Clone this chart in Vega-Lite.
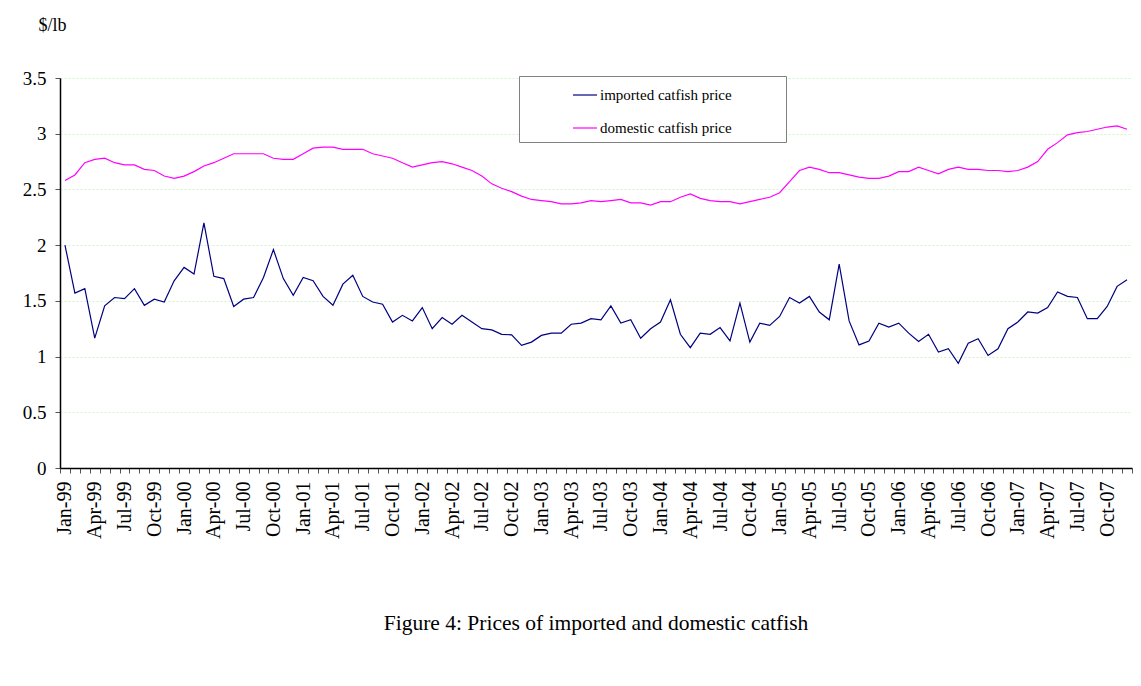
{
  "$schema": "https://vega.github.io/schema/vega-lite/v6.json",
  "autosize": "none",
  "width": 1072,
  "height": 390,
  "padding": {"left": 60, "top": 78, "right": 9, "bottom": 218},
  "background": "white",
  "config": {
    "font": "Liberation Serif",
    "view": {"stroke": null},
    "axis": {"labelFont": "Liberation Serif", "titleFont": "Liberation Serif", "labelColor": "black", "titleColor": "black"}
  },
  "title": {
    "text": "Figure 4: Prices of imported and domestic catfish",
    "orient": "bottom",
    "anchor": "middle",
    "fontSize": 21.5,
    "fontWeight": "normal",
    "font": "Liberation Serif",
    "color": "black",
    "offset": 75
  },
  "data": {
    "values": [
      {"month": "Jan-99", "imported catfish price": 2.00, "domestic catfish price": 2.58},
      {"month": "Feb-99", "imported catfish price": 1.57, "domestic catfish price": 2.63},
      {"month": "Mar-99", "imported catfish price": 1.61, "domestic catfish price": 2.74},
      {"month": "Apr-99", "imported catfish price": 1.165, "domestic catfish price": 2.77},
      {"month": "May-99", "imported catfish price": 1.455, "domestic catfish price": 2.78},
      {"month": "Jun-99", "imported catfish price": 1.53, "domestic catfish price": 2.74},
      {"month": "Jul-99", "imported catfish price": 1.52, "domestic catfish price": 2.72},
      {"month": "Aug-99", "imported catfish price": 1.61, "domestic catfish price": 2.72},
      {"month": "Sep-99", "imported catfish price": 1.46, "domestic catfish price": 2.68},
      {"month": "Oct-99", "imported catfish price": 1.515, "domestic catfish price": 2.67},
      {"month": "Nov-99", "imported catfish price": 1.49, "domestic catfish price": 2.62},
      {"month": "Dec-99", "imported catfish price": 1.68, "domestic catfish price": 2.60},
      {"month": "Jan-00", "imported catfish price": 1.80, "domestic catfish price": 2.62},
      {"month": "Feb-00", "imported catfish price": 1.74, "domestic catfish price": 2.66},
      {"month": "Mar-00", "imported catfish price": 2.20, "domestic catfish price": 2.71},
      {"month": "Apr-00", "imported catfish price": 1.72, "domestic catfish price": 2.74},
      {"month": "May-00", "imported catfish price": 1.70, "domestic catfish price": 2.78},
      {"month": "Jun-00", "imported catfish price": 1.45, "domestic catfish price": 2.82},
      {"month": "Jul-00", "imported catfish price": 1.515, "domestic catfish price": 2.82},
      {"month": "Aug-00", "imported catfish price": 1.53, "domestic catfish price": 2.82},
      {"month": "Sep-00", "imported catfish price": 1.71, "domestic catfish price": 2.82},
      {"month": "Oct-00", "imported catfish price": 1.96, "domestic catfish price": 2.78},
      {"month": "Nov-00", "imported catfish price": 1.70, "domestic catfish price": 2.77},
      {"month": "Dec-00", "imported catfish price": 1.55, "domestic catfish price": 2.77},
      {"month": "Jan-01", "imported catfish price": 1.71, "domestic catfish price": 2.82},
      {"month": "Feb-01", "imported catfish price": 1.68, "domestic catfish price": 2.87},
      {"month": "Mar-01", "imported catfish price": 1.54, "domestic catfish price": 2.88},
      {"month": "Apr-01", "imported catfish price": 1.46, "domestic catfish price": 2.88},
      {"month": "May-01", "imported catfish price": 1.65, "domestic catfish price": 2.86},
      {"month": "Jun-01", "imported catfish price": 1.73, "domestic catfish price": 2.86},
      {"month": "Jul-01", "imported catfish price": 1.54, "domestic catfish price": 2.86},
      {"month": "Aug-01", "imported catfish price": 1.49, "domestic catfish price": 2.82},
      {"month": "Sep-01", "imported catfish price": 1.47, "domestic catfish price": 2.80},
      {"month": "Oct-01", "imported catfish price": 1.31, "domestic catfish price": 2.78},
      {"month": "Nov-01", "imported catfish price": 1.37, "domestic catfish price": 2.74},
      {"month": "Dec-01", "imported catfish price": 1.32, "domestic catfish price": 2.70},
      {"month": "Jan-02", "imported catfish price": 1.44, "domestic catfish price": 2.72},
      {"month": "Feb-02", "imported catfish price": 1.25, "domestic catfish price": 2.74},
      {"month": "Mar-02", "imported catfish price": 1.35, "domestic catfish price": 2.75},
      {"month": "Apr-02", "imported catfish price": 1.29, "domestic catfish price": 2.73},
      {"month": "May-02", "imported catfish price": 1.37, "domestic catfish price": 2.70},
      {"month": "Jun-02", "imported catfish price": 1.31, "domestic catfish price": 2.67},
      {"month": "Jul-02", "imported catfish price": 1.25, "domestic catfish price": 2.62},
      {"month": "Aug-02", "imported catfish price": 1.24, "domestic catfish price": 2.55},
      {"month": "Sep-02", "imported catfish price": 1.20, "domestic catfish price": 2.51},
      {"month": "Oct-02", "imported catfish price": 1.195, "domestic catfish price": 2.48},
      {"month": "Nov-02", "imported catfish price": 1.10, "domestic catfish price": 2.44},
      {"month": "Dec-02", "imported catfish price": 1.13, "domestic catfish price": 2.41},
      {"month": "Jan-03", "imported catfish price": 1.19, "domestic catfish price": 2.40},
      {"month": "Feb-03", "imported catfish price": 1.21, "domestic catfish price": 2.39},
      {"month": "Mar-03", "imported catfish price": 1.21, "domestic catfish price": 2.37},
      {"month": "Apr-03", "imported catfish price": 1.29, "domestic catfish price": 2.37},
      {"month": "May-03", "imported catfish price": 1.30, "domestic catfish price": 2.38},
      {"month": "Jun-03", "imported catfish price": 1.34, "domestic catfish price": 2.40},
      {"month": "Jul-03", "imported catfish price": 1.33, "domestic catfish price": 2.39},
      {"month": "Aug-03", "imported catfish price": 1.455, "domestic catfish price": 2.40},
      {"month": "Sep-03", "imported catfish price": 1.30, "domestic catfish price": 2.41},
      {"month": "Oct-03", "imported catfish price": 1.33, "domestic catfish price": 2.38},
      {"month": "Nov-03", "imported catfish price": 1.165, "domestic catfish price": 2.38},
      {"month": "Dec-03", "imported catfish price": 1.25, "domestic catfish price": 2.36},
      {"month": "Jan-04", "imported catfish price": 1.31, "domestic catfish price": 2.39},
      {"month": "Feb-04", "imported catfish price": 1.51, "domestic catfish price": 2.39},
      {"month": "Mar-04", "imported catfish price": 1.20, "domestic catfish price": 2.43},
      {"month": "Apr-04", "imported catfish price": 1.08, "domestic catfish price": 2.46},
      {"month": "May-04", "imported catfish price": 1.21, "domestic catfish price": 2.42},
      {"month": "Jun-04", "imported catfish price": 1.20, "domestic catfish price": 2.40},
      {"month": "Jul-04", "imported catfish price": 1.26, "domestic catfish price": 2.39},
      {"month": "Aug-04", "imported catfish price": 1.14, "domestic catfish price": 2.39},
      {"month": "Sep-04", "imported catfish price": 1.48, "domestic catfish price": 2.37},
      {"month": "Oct-04", "imported catfish price": 1.13, "domestic catfish price": 2.39},
      {"month": "Nov-04", "imported catfish price": 1.30, "domestic catfish price": 2.41},
      {"month": "Dec-04", "imported catfish price": 1.28, "domestic catfish price": 2.43},
      {"month": "Jan-05", "imported catfish price": 1.36, "domestic catfish price": 2.47},
      {"month": "Feb-05", "imported catfish price": 1.53, "domestic catfish price": 2.57},
      {"month": "Mar-05", "imported catfish price": 1.48, "domestic catfish price": 2.67},
      {"month": "Apr-05", "imported catfish price": 1.54, "domestic catfish price": 2.70},
      {"month": "May-05", "imported catfish price": 1.40, "domestic catfish price": 2.68},
      {"month": "Jun-05", "imported catfish price": 1.33, "domestic catfish price": 2.65},
      {"month": "Jul-05", "imported catfish price": 1.83, "domestic catfish price": 2.65},
      {"month": "Aug-05", "imported catfish price": 1.32, "domestic catfish price": 2.63},
      {"month": "Sep-05", "imported catfish price": 1.105, "domestic catfish price": 2.61},
      {"month": "Oct-05", "imported catfish price": 1.14, "domestic catfish price": 2.60},
      {"month": "Nov-05", "imported catfish price": 1.30, "domestic catfish price": 2.60},
      {"month": "Dec-05", "imported catfish price": 1.265, "domestic catfish price": 2.62},
      {"month": "Jan-06", "imported catfish price": 1.30, "domestic catfish price": 2.66},
      {"month": "Feb-06", "imported catfish price": 1.21, "domestic catfish price": 2.66},
      {"month": "Mar-06", "imported catfish price": 1.135, "domestic catfish price": 2.70},
      {"month": "Apr-06", "imported catfish price": 1.20, "domestic catfish price": 2.67},
      {"month": "May-06", "imported catfish price": 1.04, "domestic catfish price": 2.64},
      {"month": "Jun-06", "imported catfish price": 1.07, "domestic catfish price": 2.68},
      {"month": "Jul-06", "imported catfish price": 0.94, "domestic catfish price": 2.70},
      {"month": "Aug-06", "imported catfish price": 1.12, "domestic catfish price": 2.68},
      {"month": "Sep-06", "imported catfish price": 1.16, "domestic catfish price": 2.68},
      {"month": "Oct-06", "imported catfish price": 1.01, "domestic catfish price": 2.67},
      {"month": "Nov-06", "imported catfish price": 1.07, "domestic catfish price": 2.67},
      {"month": "Dec-06", "imported catfish price": 1.25, "domestic catfish price": 2.66},
      {"month": "Jan-07", "imported catfish price": 1.31, "domestic catfish price": 2.67},
      {"month": "Feb-07", "imported catfish price": 1.40, "domestic catfish price": 2.70},
      {"month": "Mar-07", "imported catfish price": 1.39, "domestic catfish price": 2.75},
      {"month": "Apr-07", "imported catfish price": 1.44, "domestic catfish price": 2.86},
      {"month": "May-07", "imported catfish price": 1.58, "domestic catfish price": 2.92},
      {"month": "Jun-07", "imported catfish price": 1.54, "domestic catfish price": 2.99},
      {"month": "Jul-07", "imported catfish price": 1.53, "domestic catfish price": 3.01},
      {"month": "Aug-07", "imported catfish price": 1.34, "domestic catfish price": 3.02},
      {"month": "Sep-07", "imported catfish price": 1.34, "domestic catfish price": 3.04},
      {"month": "Oct-07", "imported catfish price": 1.45, "domestic catfish price": 3.06},
      {"month": "Nov-07", "imported catfish price": 1.63, "domestic catfish price": 3.07},
      {"month": "Dec-07", "imported catfish price": 1.69, "domestic catfish price": 3.04}
    ]
  },
  "transform": [
    {"fold": ["imported catfish price", "domestic catfish price"], "as": ["series", "price"]}
  ],
  "mark": {"type": "line", "strokeWidth": 1.2, "interpolate": "linear"},
  "encoding": {
    "x": {
      "field": "month",
      "type": "ordinal",
      "sort": null,
      "bandPosition": 0.5,
      "scale": {"type": "band", "paddingInner": 0, "paddingOuter": 0},
      "axis": {
        "title": null,
        "labelAngle": -90,
        "labelFontSize": 20,
        "labelPadding": 8,
        "labelOverlap": false,
        "labelExpr": "test(/^(Jan|Apr|Jul|Oct)/, datum.value) ? datum.value : ''",
        "tickBand": "extent",
        "tickSize": 5,
        "tickColor": "#555555",
        "domainColor": "black",
        "domainWidth": 1.5,
        "grid": false
      }
    },
    "y": {
      "field": "price",
      "type": "quantitative",
      "scale": {"domain": [0, 3.5], "nice": false, "zero": true},
      "axis": {
        "values": [0, 0.5, 1, 1.5, 2, 2.5, 3, 3.5],
        "format": "~g",
        "title": "$/lb",
        "titleAngle": 0,
        "titleAlign": "left",
        "titleBaseline": "middle",
        "titleX": -22,
        "titleY": -53,
        "titleFontSize": 18,
        "titleFontWeight": "normal",
        "labelFontSize": 19,
        "labelPadding": 9,
        "tickSize": 5,
        "tickColor": "#555555",
        "domainColor": "black",
        "domainWidth": 1.5,
        "grid": true,
        "gridColor": "#ccf5cc",
        "gridDash": [2, 2],
        "gridWidth": 1
      }
    },
    "color": {
      "field": "series",
      "type": "nominal",
      "scale": {
        "domain": ["imported catfish price", "domestic catfish price"],
        "range": ["#000080", "#FF00FF"]
      },
      "legend": {
        "title": "\u00a0",
        "titleOrient": "right",
        "titleFontSize": 4,
        "titlePadding": 48,
        "orient": "none",
        "legendX": 459,
        "legendY": -2,
        "direction": "vertical",
        "symbolType": "stroke",
        "symbolSize": 576,
        "symbolStrokeWidth": 1.2,
        "symbolOffset": 47,
        "labelOffset": 2,
        "labelFontSize": 15,
        "labelFont": "Liberation Serif",
        "labelColor": "black",
        "labelLimit": 500,
        "rowPadding": 12,
        "padding": 6,
        "strokeColor": "#808080",
        "fillColor": "white"
      }
    }
  }
}
